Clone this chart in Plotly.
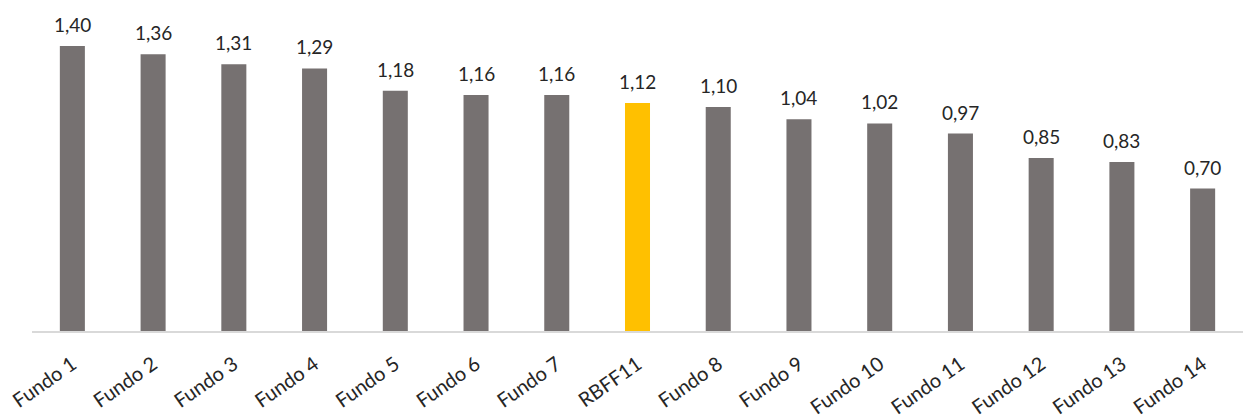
import plotly.graph_objects as go

categories = ["Fundo 1", "Fundo 2", "Fundo 3", "Fundo 4", "Fundo 5", "Fundo 6", "Fundo 7",
              "RBFF11", "Fundo 8", "Fundo 9", "Fundo 10", "Fundo 11", "Fundo 12", "Fundo 13", "Fundo 14"]
values = [1.40, 1.36, 1.31, 1.29, 1.18, 1.16, 1.16, 1.12, 1.10, 1.04, 1.02, 0.97, 0.85, 0.83, 0.70]
labels = ["1,40", "1,36", "1,31", "1,29", "1,18", "1,16", "1,16", "1,12", "1,10", "1,04",
          "1,02", "0,97", "0,85", "0,83", "0,70"]
highlight = "RBFF11"

GRAY = "#767171"
YELLOW = "#FFC000"
colors = [YELLOW if c == highlight else GRAY for c in categories]
FONT = "Lato, 'Open Sans', sans-serif"

fig = go.Figure()
fig.add_trace(go.Bar(x=categories, y=values, marker=dict(color=colors, line=dict(width=0)),
                     width=0.31, hoverinfo="skip"))

for c, v, t in zip(categories, values, labels):
    fig.add_annotation(x=c, y=v, text=t, showarrow=False, yanchor="bottom", yshift=8,
                       font=dict(family=FONT, size=19, color="#262626"))

fig.update_layout(
    width=1244, height=418,
    margin=dict(l=32, r=1, t=10, b=87),
    paper_bgcolor="white", plot_bgcolor="white",
    showlegend=False, bargap=0.69,
    font=dict(family=FONT, size=18, color="#262626"),
)
fig.update_xaxes(showline=True, linecolor="#D9D9D9", linewidth=2, tickangle=-35,
                 ticks="", ticklabelstandoff=12, automargin=False,
                 tickfont=dict(family=FONT, size=20, color="#262626"),
                 showgrid=False)
fig.update_yaxes(range=[0, 1.577], visible=False, showgrid=False, zeroline=False,
                 automargin=False)

fig.write_html("out.html")
